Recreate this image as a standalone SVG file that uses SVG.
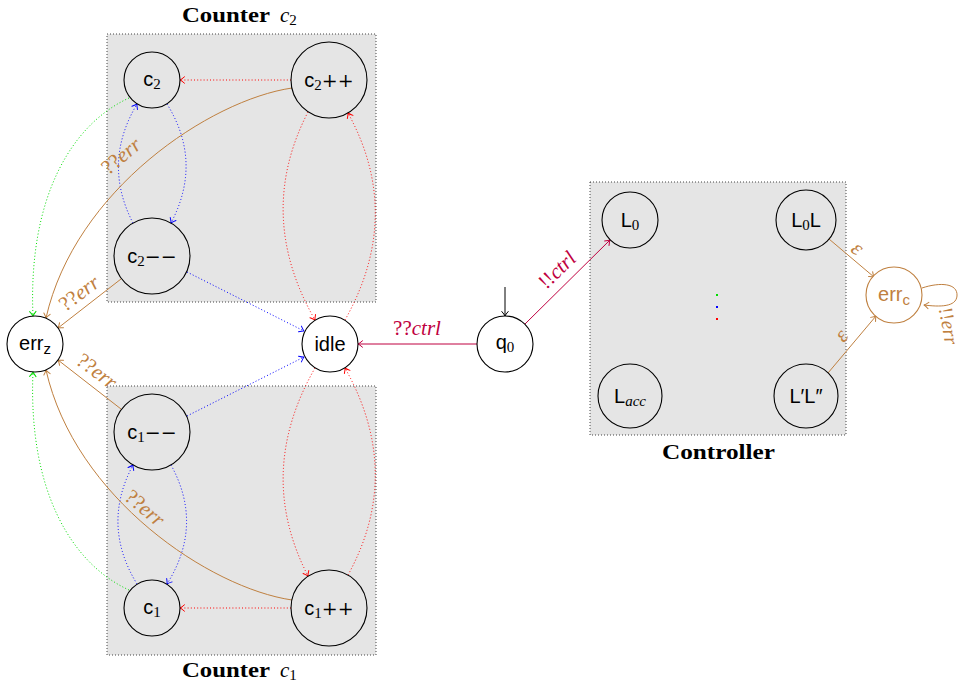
<svg xmlns="http://www.w3.org/2000/svg" width="962" height="686" viewBox="0 0 962 686">
<style>
.box{fill:#e5e5e5;stroke:#444;stroke-width:1;stroke-dasharray:1 2}
.nd{fill:none;stroke:#000;stroke-width:1.1}
.ndw{fill:#fff;stroke:#000;stroke-width:1.1}
.lbl{font-family:"Liberation Sans","DejaVu Sans",sans-serif;font-size:20px;fill:#000;text-anchor:middle}
.mth{font-family:"DejaVu Serif","Liberation Serif",serif;font-size:19px}
.sub{font-family:"Liberation Serif","DejaVu Serif",serif;font-size:15px}
.ttl{font-family:"Liberation Serif","DejaVu Serif",serif;font-size:21px;font-weight:bold;fill:#000}
.it{font-family:"Liberation Serif","DejaVu Serif",serif;font-style:italic}
.e{fill:none;stroke-width:1}
.dot{stroke-dasharray:1 2.2}
.red{stroke:#ff0000}.blue{stroke:#0000ff}.green{stroke:#00dd00}.brown{stroke:#bf8040}.pur{stroke:#bf0040}.blk{stroke:#000}
.el{font-family:"Liberation Serif","DejaVu Serif",serif;font-size:21px;text-anchor:middle}
.mk{fill:none;stroke-width:1;stroke-linecap:round;stroke-linejoin:round}
</style>
<defs>
<marker id="aK" viewBox="-6 -5 7 10" refX="0" refY="0" markerWidth="7" markerHeight="10" markerUnits="userSpaceOnUse" orient="auto"><path class="mk" stroke="#000" d="M-4.5 -3.2 Q-1.5 -0.6 0 0 Q-1.5 0.6 -4.5 3.2"/></marker>
<marker id="aR" viewBox="-6 -5 7 10" refX="0" refY="0" markerWidth="7" markerHeight="10" markerUnits="userSpaceOnUse" orient="auto"><path class="mk" stroke="#ff0000" d="M-4.5 -3.2 Q-1.5 -0.6 0 0 Q-1.5 0.6 -4.5 3.2"/></marker>
<marker id="aB" viewBox="-6 -5 7 10" refX="0" refY="0" markerWidth="7" markerHeight="10" markerUnits="userSpaceOnUse" orient="auto"><path class="mk" stroke="#0000ff" d="M-4.5 -3.2 Q-1.5 -0.6 0 0 Q-1.5 0.6 -4.5 3.2"/></marker>
<marker id="aG" viewBox="-6 -5 7 10" refX="0" refY="0" markerWidth="7" markerHeight="10" markerUnits="userSpaceOnUse" orient="auto"><path class="mk" stroke="#00dd00" d="M-4.5 -3.2 Q-1.5 -0.6 0 0 Q-1.5 0.6 -4.5 3.2"/></marker>
<marker id="aN" viewBox="-6 -5 7 10" refX="0" refY="0" markerWidth="7" markerHeight="10" markerUnits="userSpaceOnUse" orient="auto"><path class="mk" stroke="#bf8040" d="M-4.5 -3.2 Q-1.5 -0.6 0 0 Q-1.5 0.6 -4.5 3.2"/></marker>
<marker id="aP" viewBox="-6 -5 7 10" refX="0" refY="0" markerWidth="7" markerHeight="10" markerUnits="userSpaceOnUse" orient="auto"><path class="mk" stroke="#bf0040" d="M-4.5 -3.2 Q-1.5 -0.6 0 0 Q-1.5 0.6 -4.5 3.2"/></marker>
</defs>
<rect width="962" height="686" fill="#fff"/>

<g id="boxes">
<rect class="box" x="107" y="34" width="269" height="268"/>
<rect class="box" x="107" y="386" width="269" height="269"/>
<rect class="box" x="590" y="182" width="256" height="253"/>
<text class="ttl" x="182" y="22" textLength="88" lengthAdjust="spacingAndGlyphs">Counter</text>
<text class="it" x="280" y="22" font-size="21">c<tspan class="sub" font-style="normal" dy="3">2</tspan></text>
<text class="ttl" x="182" y="677" textLength="88" lengthAdjust="spacingAndGlyphs">Counter</text>
<text class="it" x="280" y="677" font-size="21">c<tspan class="sub" font-style="normal" dy="3">1</tspan></text>
<text class="ttl" x="662" y="459" textLength="113" lengthAdjust="spacingAndGlyphs">Controller</text>
<rect x="716" y="294" width="2" height="2" fill="#00dd00"/>
<rect x="716" y="306" width="2" height="2" fill="#0000ff"/>
<rect x="716" y="318" width="2" height="2" fill="#ff0000"/>
</g>

<g id="connectors">
<path class="e dot red" d="M291 80 L180 80" marker-end="url(#aR)"/>
<path class="e dot red" d="M291 608 L180 608" marker-end="url(#aR)"/>
<path class="e dot blue" d="M167 104 Q203 162 171 223" marker-end="url(#aB)"/>
<path class="e dot blue" d="M133 223 Q102 163 137 104" marker-end="url(#aB)"/>
<path class="e dot blue" d="M171 465 Q204 525 167 584" marker-end="url(#aB)"/>
<path class="e dot blue" d="M137 584 Q101 525 133 465" marker-end="url(#aB)"/>
<path class="e dot red" d="M308 112 Q255 215 315 320" marker-end="url(#aR)"/>
<path class="e dot red" d="M345 320 Q404 215 348 113" marker-end="url(#aR)"/>
<path class="e dot red" d="M315 368 Q255 473 308 576" marker-end="url(#aR)"/>
<path class="e dot red" d="M348 575 Q404 473 345 368" marker-end="url(#aR)"/>
<path class="e dot blue" d="M187 272 L304 331" marker-end="url(#aB)"/>
<path class="e dot blue" d="M187 416 L304 357" marker-end="url(#aB)"/>
<path class="e dot green" d="M129 98 C70 125 28 200 33 316" marker-end="url(#aG)"/>
<path class="e dot green" d="M129 590 C70 563 28 488 33 372" marker-end="url(#aG)"/>
<path class="e brown" d="M292 88 C210 100 75 190 46 318" marker-end="url(#aN)"/>
<path class="e brown" d="M292 600 C210 588 75 498 46 370" marker-end="url(#aN)"/>
<path class="e brown" d="M121 279 L58 328" marker-end="url(#aN)"/>
<path class="e brown" d="M121 409 L58 360" marker-end="url(#aN)"/>
<path class="e pur" d="M477 344 L358 344" marker-end="url(#aP)"/>
<path class="e pur" d="M525 324 L610 240" marker-end="url(#aP)"/>
<path class="e blk" d="M505 287 L505 316" marker-end="url(#aK)"/>
<path class="e brown" d="M829 239 L874 277" marker-end="url(#aN)"/>
<path class="e brown" d="M828 373 L876 316" marker-end="url(#aN)"/>
<path class="e brown" d="M922 288 C940 282 958 283 957 296 C956 307 940 307 924 305" marker-end="url(#aN)"/>

<g fill="#bf8040" class="el">
<text transform="translate(121 156) rotate(-40)" y="7">??<tspan font-style="italic">err</tspan></text>
<text transform="translate(79 293) rotate(-37)" y="7">??<tspan font-style="italic">err</tspan></text>
<text transform="translate(97 371) rotate(37)" y="7">??<tspan font-style="italic">err</tspan></text>
<text transform="translate(145 508) rotate(40)" y="7">??<tspan font-style="italic">err</tspan></text>
<text transform="translate(857 249) rotate(40)" y="6" font-size="22" font-style="italic">ε</text>
<text transform="translate(842 336) rotate(-50)" y="6" font-size="22" font-style="italic">ε</text>
<text transform="translate(948 326) rotate(80)" y="6" font-size="20">!!<tspan font-style="italic">err</tspan></text>
</g>
<g fill="#bf0040" class="el">
<text x="417" y="335">??<tspan font-style="italic">ctrl</tspan></text>
<text transform="translate(557 270) rotate(-44)" y="7">!!<tspan font-style="italic">ctrl</tspan></text>
</g>
</g>

<g id="n-c2"><circle class="nd" cx="152" cy="80" r="28"/><text class="lbl" x="152" y="86">c<tspan class="sub" dy="3">2</tspan></text></g>
<g id="n-c2inc"><circle class="nd" cx="329" cy="80" r="38"/><text class="lbl" x="329" y="87">c<tspan class="sub" dy="3">2</tspan><tspan class="mth" dy="-3">++</tspan></text></g>
<g id="n-c2dec"><circle class="nd" cx="152" cy="256" r="38"/><text class="lbl" x="152" y="263">c<tspan class="sub" dy="3">2</tspan><tspan class="mth" dy="-3">−−</tspan></text></g>
<g id="n-errz"><circle class="ndw" cx="35" cy="344" r="28"/><text class="lbl" x="35" y="350">err<tspan font-size="15" dy="4">z</tspan></text></g>
<g id="n-idle"><circle class="ndw" cx="330" cy="344" r="28"/><text class="lbl" x="330" y="351">idle</text></g>
<g id="n-q0"><circle class="ndw" cx="505" cy="344" r="28"/><text class="lbl" x="505" y="349">q<tspan class="sub" dy="3">0</tspan></text></g>
<g id="n-c1dec"><circle class="nd" cx="152" cy="432" r="38"/><text class="lbl" x="152" y="439">c<tspan class="sub" dy="3">1</tspan><tspan class="mth" dy="-3">−−</tspan></text></g>
<g id="n-c1"><circle class="nd" cx="152" cy="608" r="28"/><text class="lbl" x="152" y="614">c<tspan class="sub" dy="3">1</tspan></text></g>
<g id="n-c1inc"><circle class="nd" cx="329" cy="608" r="38"/><text class="lbl" x="329" y="615">c<tspan class="sub" dy="3">1</tspan><tspan class="mth" dy="-3">++</tspan></text></g>
<g id="n-L0"><circle class="nd" cx="630" cy="220" r="28"/><text class="lbl" x="630" y="227">L<tspan class="sub" dy="3">0</tspan></text></g>
<g id="n-L0L"><circle class="nd" cx="806" cy="220" r="30"/><text class="lbl" x="806" y="227">L<tspan class="sub" dy="3">0</tspan><tspan dy="-3">L</tspan></text></g>
<g id="n-Lacc"><circle class="nd" cx="630" cy="396" r="32"/><text class="lbl" x="630" y="403">L<tspan class="sub" font-style="italic" dy="3">acc</tspan></text></g>
<g id="n-LL"><circle class="nd" cx="806" cy="396" r="32"/><text class="lbl" x="806" y="403">L′L″</text></g>
<g id="n-errc"><circle cx="894" cy="295" r="28" fill="#fff" stroke="#bf8040" stroke-width="1.1"/><text class="lbl" x="894" y="301" style="fill:#bf8040">err<tspan font-size="15" dy="4">c</tspan></text></g>
</svg>
